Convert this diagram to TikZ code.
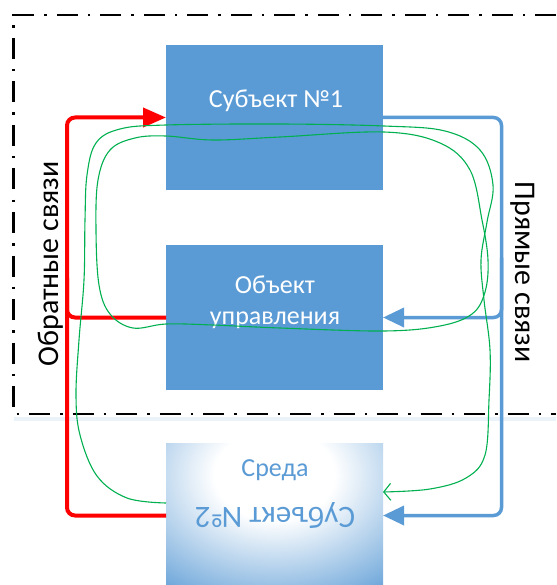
\documentclass[tikz,border=0pt]{standalone}
\usepackage{fontspec}
\setmainfont{Carlito}
\usetikzlibrary{arrows.meta}

\definecolor{unitblue}{RGB}{91,155,213}
\definecolor{fbred}{RGB}{255,0,0}
\definecolor{loopgreen}{RGB}{0,176,80}

\pgfdeclareradialshading{envglow}{\pgfpoint{0bp}{0bp}}{color(0bp)=(white); color(7.5bp)=(white); color(25bp)=(unitblue); color(50bp)=(unitblue)}

\tikzset{
  unit/.style={rectangle,fill=unitblue,minimum width=217pt,minimum height=145pt,inner sep=0pt,outer sep=0pt},
  unittext/.style={text=white,font=\fontsize{26}{31}\selectfont,align=center},
  envtext/.style={text=unitblue,font=\fontsize{26}{31}\selectfont},
  sidetext/.style={font=\fontsize{30}{36}\selectfont},
  fwd/.style={draw=unitblue,line width=3.5pt,rounded corners=8pt,-{Triangle[length=21pt,width=19pt]}},
  bwd/.style={draw=fbred,line width=4pt,rounded corners=8pt,-{Triangle[length=23pt,width=19pt]}},
  loopline/.style={draw=loopgreen,line width=1.1pt},
  border/.style={draw=black,line width=2.5pt,dash pattern=on 21pt off 10pt on 2.5pt off 10pt},
}

\begin{document}
\begin{tikzpicture}[x=1pt,y=-1pt]
        \useasboundingbox (0,0) rectangle (556,585);

        % frame of the system
        \draw[line width=4pt,unitblue!12] (13.5,418.5) -- (556,418.5);
        \draw[border] (556,15) -- (13.5,15) -- (13.5,414) -- (556,414);

        \foreach \n/\y in {subj1/117.5,obj/317.5} {
          \node[unit] (\n) at (274.5,\y) {};
        }
        \node[unit,fill=none] (subj2) at (274.5,515.5) {};
        \begin{scope}
          \clip (subj2.north west) rectangle (subj2.south east);
          \shade[shading=envglow] (74.5,325) rectangle (474.5,625);
        \end{scope}

        \node[unittext] (subj1txt) at (276,101) {Субъект №1};
        \node[unittext] (objtxt) at (275,302) {Объект\\управления};
        \node[envtext] (envtxt) at (275,470) {Среда};
        \node[envtext,rotate=180,font=\fontsize{31}{36}\selectfont] (subj2txt) at (275,516) {Субъект №2};

        \node[sidetext,rotate=90] (fblabel) at (51,264) {Обратные связи};
        \node[sidetext,rotate=-90] (fflabel) at (523,272) {Прямые связи};

        % feedback (red) and direct links (blue)
        \draw[bwd] (subj2.west) -| ([xshift=-99pt]subj1.west) -- (subj1.west);
        \draw[bwd,-] (obj.west) -| ([xshift=-99pt,yshift=40pt]obj.west);
        \draw[fwd] (subj1.east) -| ([xshift=118.5pt]subj2.east) -- (subj2.east);
        \draw[fwd] ([xshift=118.5pt,yshift=60pt]obj.east) |- (obj.east);

        % green loops
        \coordinate (envin) at ([yshift=12.5pt]subj2.west);
        \coordinate (envout) at ([yshift=23.5pt]subj2.east);
        \draw[loopline] plot[smooth cycle,tension=0.6] coordinates {
          (166,136) (213,140) (280,137) (384,132) (440,143) (470,170) (482,220)
          (488,260) (485,292) (472,314) (440,326) (384,331) (280,328) (213,325)
          (166,324) (133,328) (110,314) (99,285) (96,230) (98,180) (110,150) (135,138)};
        \draw[loopline,-{Straight Barb[length=7pt,width=17pt]}] plot[smooth,tension=0.6] coordinates {
          (envin) (127,498) (97,476) (80,435) (76,395) (79,340) (84,280) (85,220) (87,175)
          (96,143) (120,129) (166,125) (280,124) (384,126) (445,131) (480,150) (493,185)
          (487,222) (481,260) (484,300) (490,350) (489,400) (485,455) (466,478) (430,489) (envout)};
\end{tikzpicture}
\end{document}
